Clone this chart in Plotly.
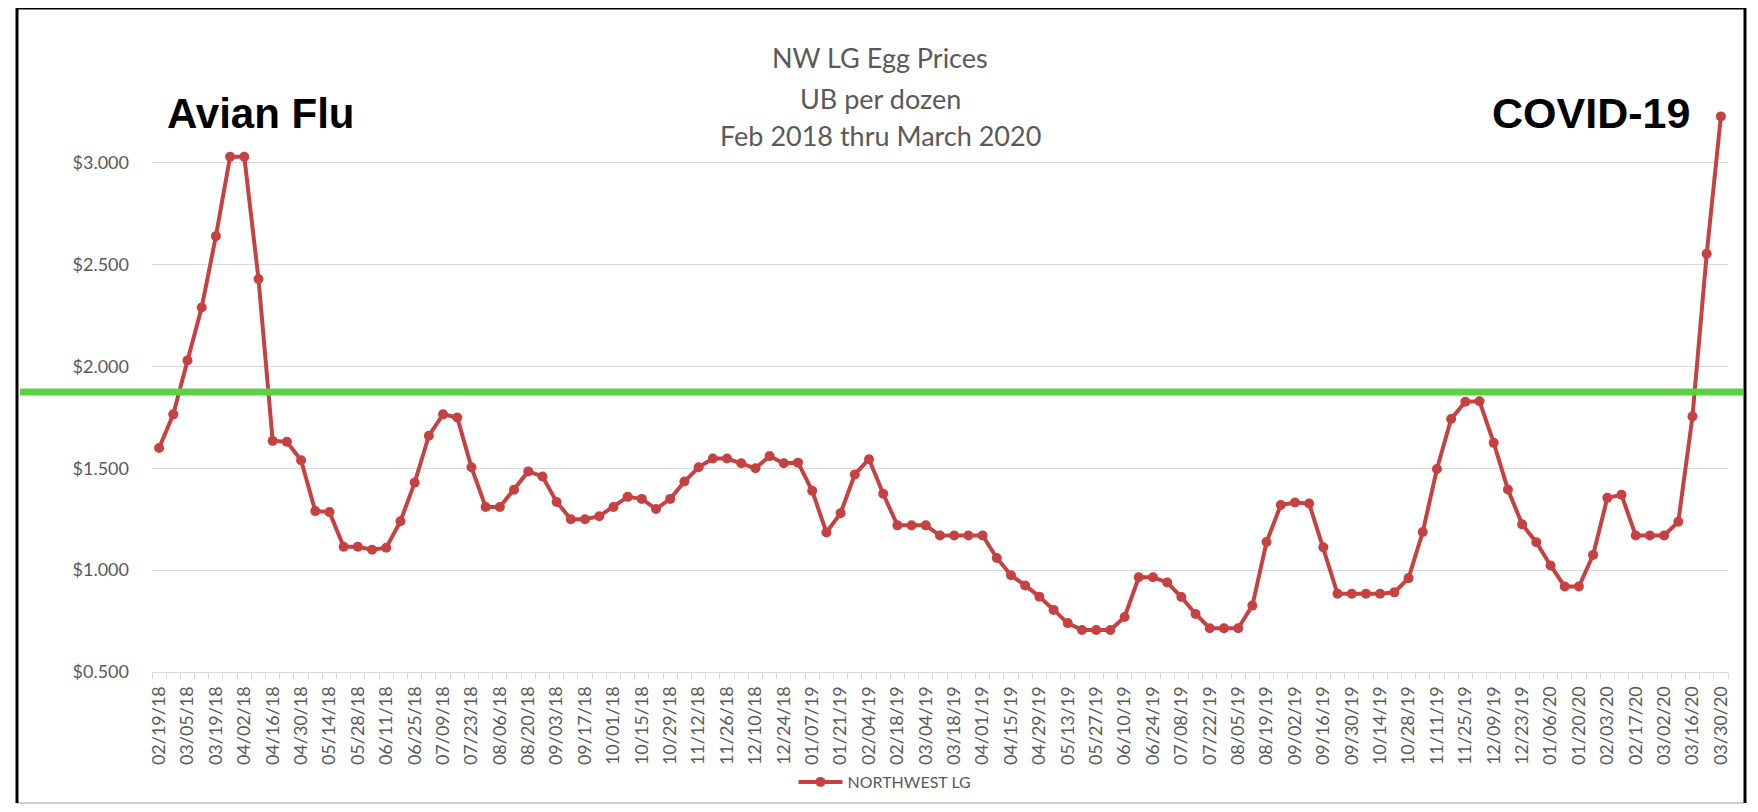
import pandas as pd
import plotly.graph_objects as go

# ---- data ----
dates = [d.strftime("%m/%d/%y") for d in pd.date_range("2018-02-19", "2020-03-30", freq="7D")]
prices = [
    1.600, 1.765, 2.030, 2.290, 2.640, 3.030, 3.030, 2.430, 1.635, 1.630,
    1.540, 1.290, 1.285, 1.115, 1.115, 1.100, 1.110, 1.240, 1.430, 1.660,
    1.765, 1.750, 1.505, 1.310, 1.310, 1.395, 1.485, 1.460, 1.335, 1.250,
    1.250, 1.265, 1.310, 1.360, 1.350, 1.300, 1.350, 1.435, 1.505, 1.548,
    1.548, 1.525, 1.500, 1.560, 1.525, 1.528, 1.390, 1.185, 1.280, 1.470,
    1.545, 1.375, 1.220, 1.220, 1.220, 1.170, 1.170, 1.170, 1.170, 1.060,
    0.975, 0.925, 0.870, 0.805, 0.740, 0.706, 0.706, 0.706, 0.770, 0.965,
    0.965, 0.940, 0.868, 0.785, 0.715, 0.715, 0.715, 0.826, 1.138, 1.320,
    1.332, 1.327, 1.112, 0.884, 0.884, 0.884, 0.884, 0.891, 0.961, 1.187,
    1.497, 1.742, 1.827, 1.829, 1.625, 1.396, 1.225, 1.137, 1.023, 0.920,
    0.920, 1.075, 1.355, 1.370, 1.170, 1.170, 1.170, 1.238, 1.755, 2.553,
    3.228,
]
series_name = "NORTHWEST LG"
threshold = 1.875
y_ticks = [0.5, 1.0, 1.5, 2.0, 2.5, 3.0]
title_lines = ["NW LG Egg Prices", "UB per dozen", "Feb 2018 thru March 2020"]
left_note = "Avian Flu"
right_note = "COVID-19"

positions = list(range(len(dates)))
label_positions = positions[::2]
label_text = dates[::2]

RED = "#C64242"
GRAY = "#595959"

fig = go.Figure()
fig.add_trace(go.Scatter(
    x=positions, y=prices, name=series_name, mode="lines+markers",
    line=dict(color=RED, width=4),
    marker=dict(color=RED, size=10, symbol="circle"),
))

# page body has an 8px margin; work in window pixel coordinates
OFF = 8
W, H = 1750, 796
PL, PR, PT, PB = 152, 1728, 61, 672          # plot area in window px
L, R, T = PL - OFF, W - (PR - OFF), PT - OFF
B = H - (PB - OFF)
pw, ph = W - L - R, H - T - B

def px_x(x):
    return (x - OFF - L) / pw

def px_y(y):
    return (H - B - (y - OFF)) / ph

fig.update_layout(
    width=W, height=H,
    margin=dict(l=L, r=R, t=T, b=B, autoexpand=False),
    paper_bgcolor="white", plot_bgcolor="white",
    showlegend=True,
    legend=dict(orientation="h", x=px_x(885), xanchor="center", y=px_y(782), yanchor="middle",
                bgcolor="rgba(0,0,0,0)",
                font=dict(family="Lato", size=16, color=GRAY), itemwidth=44),
    font=dict(family="Lato", color=GRAY),
)
fig.update_xaxes(
    range=[-0.5, len(dates) - 0.5], automargin=False,
    tickmode="array", tickvals=label_positions, ticktext=label_text,
    tickangle=-90, tickfont=dict(family="Lato", size=18, color=GRAY),
    ticks="", showgrid=False, zeroline=False, ticklabelstandoff=6,
    showline=True, linecolor="#d9d9d9", linewidth=1,
    minor=dict(ticks="outside", tick0=-0.5, dtick=1, ticklen=6, tickcolor="#d9d9d9", showgrid=False),
)
fig.update_yaxes(
    range=[0.5, 3.5], tickmode="array", tickvals=y_ticks, tickformat="$.3f", automargin=False,
    tickfont=dict(family="Lato", size=18, color=GRAY),
    showgrid=True, gridcolor="#d9d9d9", gridwidth=1, zeroline=False,
    showline=False, ticks="", ticklabelstandoff=22,
)

# outer frame (black on left, top, right; light grey at bottom)
frame_x0, frame_x1, frame_y0, frame_y1 = px_x(17), px_x(1745), px_y(803), px_y(8)
fig.add_shape(type="line", xref="paper", yref="paper", x0=frame_x0, x1=frame_x1, y0=frame_y0, y1=frame_y0,
              line=dict(color="#d0d0d0", width=2), layer="above")
fig.add_shape(type="path", xref="paper", yref="paper",
              path=f"M {frame_x0},{frame_y0} L {frame_x0},{frame_y1} L {frame_x1},{frame_y1} L {frame_x1},{frame_y0}",
              line=dict(color="black", width=3), layer="above")
# green reference line
fig.add_shape(type="line", xref="paper", yref="y",
              x0=px_x(20), x1=px_x(1743), y0=threshold, y1=threshold,
              line=dict(color="#5AD244", width=7), layer="above")

# title lines
for txt, yy in zip(title_lines, [58, 98, 136]):
    fig.add_annotation(text=txt, xref="paper", yref="paper", x=px_x(880), y=px_y(yy),
                       xanchor="center", yanchor="middle", showarrow=False,
                       font=dict(family="Lato", size=27, color=GRAY))

fig.add_annotation(text="<b>" + left_note + "</b>", xref="paper", yref="paper",
                   x=px_x(260), y=px_y(113), xanchor="center", yanchor="middle", showarrow=False,
                   font=dict(family="Liberation Sans", size=42, color="black"))
fig.add_annotation(text="<b>" + right_note + "</b>", xref="paper", yref="paper",
                   x=px_x(1591), y=px_y(113), xanchor="center", yanchor="middle", showarrow=False,
                   font=dict(family="Liberation Sans", size=43, color="black"))

fig.write_html("out.html")
